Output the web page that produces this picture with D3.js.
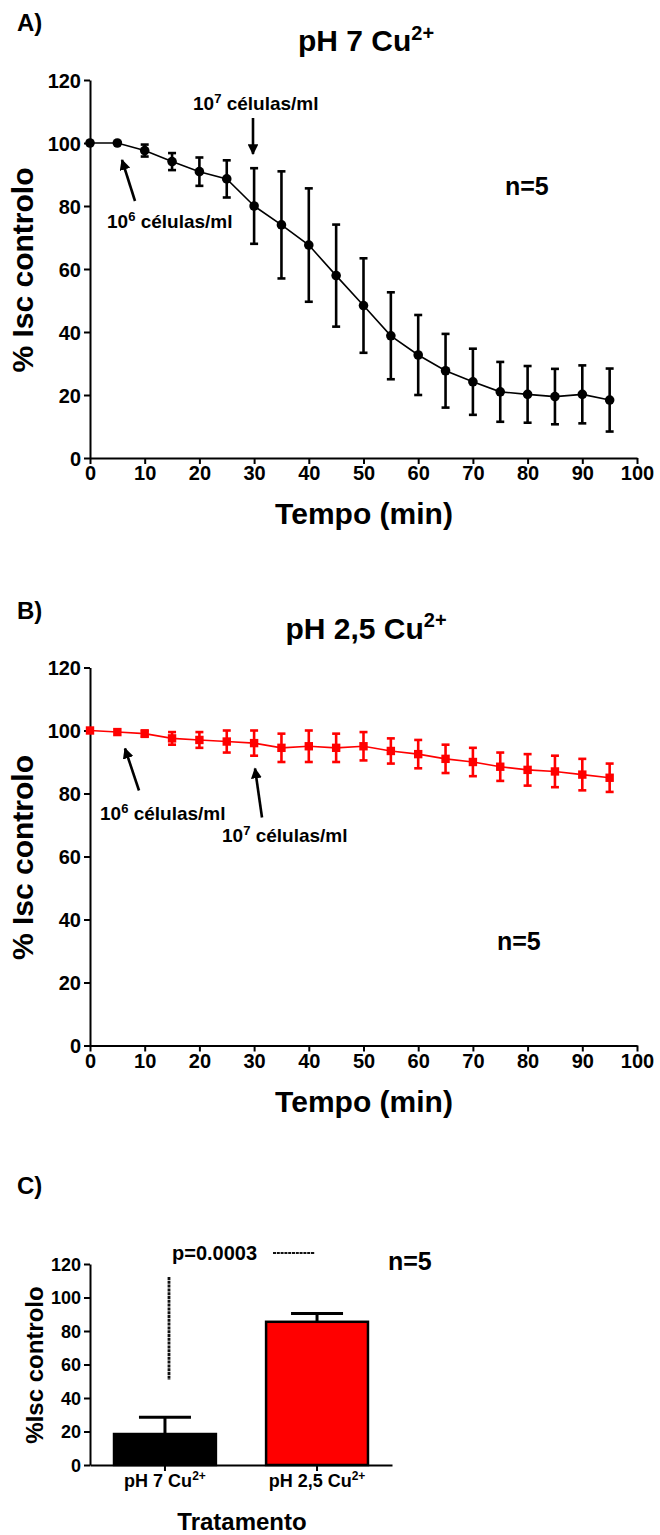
<!DOCTYPE html>
<html>
<head>
<meta charset="utf-8">
<script src="https://cdn.jsdelivr.net/npm/d3@7/dist/d3.min.js"></script>
<style>
  body { margin: 0; background: #fff; }
  svg text { font-family: "Liberation Sans", Arial, Helvetica, sans-serif; font-weight: bold; fill: #000; }
</style>
</head>
<body>
<svg id="chart" width="660" height="1535"></svg>
<script>
// ---------- data ----------
const times = [0, 5, 10, 15, 20, 25, 30, 35, 40, 45, 50, 55, 60, 65, 70, 75, 80, 85, 90, 95];
const meanA = [100, 100, 97.6, 94.1, 90.9, 88.6, 80, 74, 67.6, 57.9, 48.4, 38.8, 32.7, 27.7, 24.2, 21, 20.2, 19.5, 20.2, 18.4];
const errA  = [0, 0, 1.9, 2.7, 4.5, 5.9, 12, 17, 18, 16.2, 15, 13.8, 12.7, 11.7, 10.5, 9.5, 9, 8.8, 9.2, 10];
const meanB = [100, 99.5, 99, 97.5, 97, 96.5, 96, 94.5, 95, 94.5, 95, 93.5, 92.5, 91, 90, 88.5, 87.5, 87, 86, 85];
const errB  = [0, 0.5, 1, 2, 2.5, 3.5, 4, 4.5, 5, 4.5, 4.5, 4, 4.5, 4.5, 4.5, 4.5, 5, 5, 5, 4.5];
const xTicks = [0, 10, 20, 30, 40, 50, 60, 70, 80, 90, 100];
const yTicks = [0, 20, 40, 60, 80, 100, 120];
const barCats = ["pH 7 Cu", "pH 2,5 Cu"];
const barMeans = [18.5, 85.5];
const barErrs = [10, 5];
const barColors = ["#000000", "#ff0000"];

const svg = d3.select("#chart");
svg.append("rect").attr("width", 660).attr("height", 1535).attr("fill", "#fff");

// arrow marker
const defs = svg.append("defs");
defs.append("marker").attr("id", "ah").attr("viewBox", "0 0 10 10")
  .attr("refX", 9).attr("refY", 5).attr("markerWidth", 4.2).attr("markerHeight", 4.2)
  .attr("markerUnits", "strokeWidth").attr("orient", "auto")
  .append("path").attr("d", "M0,0 L10,5 L0,10 z").attr("fill", "#000");

function styleAxis(g) {
  g.select(".domain").attr("stroke", "#000").attr("stroke-width", 2);
  g.selectAll(".tick line").attr("stroke", "#000").attr("stroke-width", 2);
}

function supText(g, x, y, base, sup, size, supSize, anchor) {
  const t = g.append("text").attr("x", x).attr("y", y).attr("font-size", size).attr("text-anchor", anchor || "middle");
  t.append("tspan").text(base);
  t.append("tspan").attr("font-size", supSize).attr("dy", -size * 0.38).text(sup);
  return t;
}

function arrow(g, x1, y1, x2, y2) {
  g.append("line").attr("x1", x1).attr("y1", y1).attr("x2", x2).attr("y2", y2)
    .attr("stroke", "#000").attr("stroke-width", 2.6).attr("marker-end", "url(#ah)");
}

function linePanel(oy, opts) {
  const g = svg.append("g").attr("transform", `translate(0,${oy})`);
  const x = d3.scaleLinear().domain([0, 100]).range([90, 637]);
  const y = d3.scaleLinear().domain([0, 120]).range([458, 80]);

  // panel letter & title
  g.append("text").attr("x", 17).attr("y", 31).attr("font-size", 24).text(opts.letter);
  supText(g, 366, 51, opts.title, "2+", 30, 20);

  // axes
  const ya = g.append("g").attr("transform", "translate(90,0)")
    .call(d3.axisLeft(y).tickValues(yTicks).tickSize(6).tickSizeOuter(0).tickPadding(3).tickFormat(d3.format("d")));
  ya.selectAll("text").attr("font-size", 20).attr("dy", "0.36em");
  styleAxis(ya);
  const xa = g.append("g").attr("transform", "translate(0,458)")
    .call(d3.axisBottom(x).tickValues(xTicks).tickSize(6).tickSizeOuter(0).tickPadding(2).tickFormat(d3.format("d")));
  xa.selectAll("text").attr("font-size", 20);
  styleAxis(xa);

  g.append("text").attr("x", 364).attr("y", 524).attr("font-size", 30).attr("text-anchor", "middle").text("Tempo (min)");
  g.append("text").attr("transform", "translate(33,270) rotate(-90)").attr("font-size", 30)
    .attr("text-anchor", "middle").text("% Isc controlo");

  const data = times.map((t, i) => ({ t, m: opts.mean[i], e: opts.err[i] }));
  // line
  g.append("path").datum(data).attr("fill", "none").attr("stroke", opts.color).attr("stroke-width", 1.6)
    .attr("d", d3.line().x(d => x(d.t)).y(d => y(d.m)));
  // error bars
  const eb = g.append("g").attr("stroke", opts.color).attr("stroke-width", 2.6);
  data.filter(d => d.e > 0.8).forEach(d => {
    eb.append("line").attr("x1", x(d.t)).attr("x2", x(d.t)).attr("y1", y(d.m - d.e)).attr("y2", y(d.m + d.e));
    [d.m - d.e, d.m + d.e].forEach(v => {
      eb.append("line").attr("x1", x(d.t) - 4).attr("x2", x(d.t) + 4).attr("y1", y(v)).attr("y2", y(v));
    });
  });
  // markers
  if (opts.shape === "circle") {
    g.selectAll("circle.pt").data(data).join("circle").attr("class", "pt")
      .attr("cx", d => x(d.t)).attr("cy", d => y(d.m)).attr("r", 4.8).attr("fill", opts.color);
  } else {
    g.selectAll("rect.pt").data(data).join("rect").attr("class", "pt")
      .attr("x", d => x(d.t) - 4.2).attr("y", d => y(d.m) - 4.2).attr("width", 8.4).attr("height", 8.4).attr("fill", opts.color);
  }
  opts.annot(g, x, y);
  g.append("text").attr("x", opts.nx).attr("y", opts.ny).attr("font-size", 25).text("n=5");
}

// Panel A
linePanel(0, {
  letter: "A)", title: "pH 7 Cu", mean: meanA, err: errA, color: "#000", shape: "circle",
  nx: 505, ny: 195,
  annot: (g, x, y) => {
    supText(g, 193, 110, "10", "7", 19, 13, "start").append("tspan").attr("dy", 19 * 0.38).text(" células/ml");
    arrow(g, 253, 118, 253, 154);
    supText(g, 107, 228, "10", "6", 19, 13, "start").append("tspan").attr("dy", 19 * 0.38).text(" células/ml");
    arrow(g, 135, 201, 122, 160);
  }
});

// Panel B
linePanel(587.5, {
  letter: "B)", title: "pH 2,5 Cu", mean: meanB, err: errB, color: "#ff0000", shape: "square",
  nx: 497, ny: 362,
  annot: (g, x, y) => {
    supText(g, 100, 232.5, "10", "6", 19, 13, "start").append("tspan").attr("dy", 19 * 0.38).text(" células/ml");
    arrow(g, 139, 203, 125, 161);
    supText(g, 222, 254.5, "10", "7", 19, 13, "start").append("tspan").attr("dy", 19 * 0.38).text(" células/ml");
    arrow(g, 262, 230, 255, 181);
  }
});

// Panel C
(function () {
  const g = svg.append("g");
  const x = d3.scaleBand().domain(barCats).range([90, 392]).paddingInner(0.33).paddingOuter(0.158);
  const y = d3.scaleLinear().domain([0, 120]).range([1465, 1264]);
  g.append("text").attr("x", 17).attr("y", 1194).attr("font-size", 24).text("C)");

  // bars
  barCats.forEach((c, i) => {
    const cx = x(c) + x.bandwidth() / 2;
    g.append("line").attr("x1", cx).attr("x2", cx).attr("y1", y(barMeans[i])).attr("y2", y(barMeans[i] + barErrs[i]))
      .attr("stroke", "#000").attr("stroke-width", 3);
    g.append("line").attr("x1", cx - 26).attr("x2", cx + 26).attr("y1", y(barMeans[i] + barErrs[i])).attr("y2", y(barMeans[i] + barErrs[i]))
      .attr("stroke", "#000").attr("stroke-width", 3);
    g.append("rect").attr("x", x(c)).attr("y", y(barMeans[i])).attr("width", x.bandwidth())
      .attr("height", y(0) - y(barMeans[i])).attr("fill", barColors[i]).attr("stroke", "#000").attr("stroke-width", 2.5);
  });

  const ya = g.append("g").attr("transform", "translate(90,0)")
    .call(d3.axisLeft(y).tickValues(yTicks).tickSize(6).tickSizeOuter(0).tickPadding(3).tickFormat(d3.format("d")));
  ya.selectAll("text").attr("font-size", 18).attr("dy", "0.36em");
  styleAxis(ya);
  const xa = g.append("g").attr("transform", "translate(0,1465)")
    .call(d3.axisBottom(x).tickSize(6).tickSizeOuter(0).tickFormat(""));
  styleAxis(xa);
  barCats.forEach(c => supText(g, x(c) + x.bandwidth() / 2, 1487, c, "2+", 18, 12));

  g.append("text").attr("x", 242).attr("y", 1530).attr("font-size", 24).attr("text-anchor", "middle").text("Tratamento");
  g.append("text").attr("transform", "translate(43,1365) rotate(-90)").attr("font-size", 24)
    .attr("text-anchor", "middle").text("%Isc controlo");

  g.append("text").attr("x", 172).attr("y", 1260).attr("font-size", 20).text("p=0.0003");
  g.append("line").attr("x1", 273).attr("x2", 315).attr("y1", 1253).attr("y2", 1253)
    .attr("stroke", "#111").attr("stroke-width", 2.2).attr("stroke-dasharray", "3,0.8");
  g.append("line").attr("x1", 169).attr("x2", 169).attr("y1", 1277).attr("y2", 1380)
    .attr("stroke", "#111").attr("stroke-width", 2.8).attr("stroke-dasharray", "3,0.8");
  g.append("text").attr("x", 388).attr("y", 1270).attr("font-size", 25).text("n=5");
})();
</script>
</body>
</html>
